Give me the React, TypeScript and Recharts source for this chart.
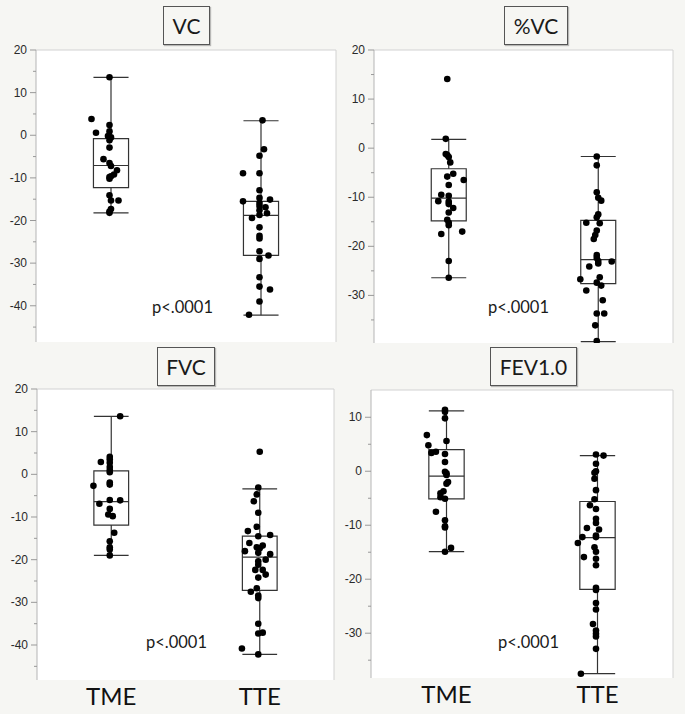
import {
  CartesianGrid,
  ComposedChart,
  ReferenceArea,
  ReferenceLine,
  Scatter,
  XAxis,
  YAxis,
} from "recharts";

const groups = ["TME", "TTE"];

// [value, horizontal jitter]
const vcTME = [
  [13.6, -0.01], [3.8, -0.13], [0.6, -0.1], [2.4, -0.01], [0.9, -0.01], [-0.2, -0.02],
  [-0.5, 0], [-1.2, -0.01], [-2.9, -0.01], [-5.6, -0.05], [-6.5, -0.01], [-7.2, 0],
  [-8.2, 0.04], [-9.2, 0.02], [-9.6, 0], [-9.8, -0.01], [-10.2, -0.01], [-14.1, -0.01],
  [-15.3, 0], [-15.3, 0.05], [-17.3, 0], [-17.9, -0.01], [-18.2, -0.01],
];
const vcTTE = [
  [3.5, 0.01], [-3.3, 0.02], [-4.8, -0.01], [-8.9, -0.12], [-8.9, -0.01], [-12.9, -0.01],
  [-15.5, -0.12], [-14.7, -0.01], [-15.1, 0.06], [-15.9, -0.01], [-16.6, -0.01], [-16.9, 0.03],
  [-17.6, -0.01], [-18.3, 0.04], [-18.7, -0.01], [-19.4, -0.06], [-21.6, -0.01], [-23.6, -0.01],
  [-24.2, -0.01], [-27.2, -0.01], [-28.2, 0.05], [-29.0, -0.01], [-33.3, -0.01], [-35.5, -0.01],
  [-36.2, 0.06], [-39.0, -0.01], [-42.1, -0.08],
];
const pvcTME = [
  [14.1, -0.01], [1.9, -0.02], [-1.2, -0.02], [-1.4, -0.01], [-1.8, 0], [-2.9, 0.01],
  [-5.2, 0.03], [-5.8, -0.01], [-6.5, 0.1], [-7.5, 0], [-9.5, -0.05], [-9.7, 0],
  [-10.8, -0.07], [-10.9, 0], [-11.4, 0], [-12.2, 0.03], [-13.1, 0], [-14.6, -0.01],
  [-15.2, 0], [-15.7, 0], [-17.5, -0.05], [-17.0, 0.09], [-23.0, 0], [-26.4, 0],
];
const pvcTTE = [
  [-1.7, -0.01], [-3.5, -0.01], [-9.0, -0.01], [-10.1, 0], [-10.7, 0.02], [-13.5, 0],
  [-14.1, -0.01], [-15.3, 0.01], [-15.2, -0.08], [-16.8, -0.01], [-17.7, -0.02], [-18.5, -0.03],
  [-21.8, -0.01], [-22.4, -0.01], [-23.0, 0], [-23.5, 0], [-23.1, 0.09], [-24.1, -0.06],
  [-26.3, 0.01], [-26.7, -0.12], [-27.4, -0.01], [-28.0, 0.02], [-29.0, -0.08], [-31.0, 0.03],
  [-33.7, -0.01], [-33.7, 0.04], [-36.1, -0.02], [-39.3, -0.01],
];
const fvcTME = [
  [13.6, 0.06], [4.1, -0.01], [3.5, -0.01], [2.9, -0.07], [2.7, -0.01], [1.7, -0.01],
  [1.0, -0.01], [0.5, -0.01], [-2.7, -0.12], [-1.9, -0.01], [-2.4, -0.01], [-6.9, -0.08],
  [-6.0, -0.01], [-6.1, 0.06], [-8.1, -0.01], [-9.4, -0.02], [-9.8, 0.01], [-13.7, 0.02],
  [-15.7, -0.01], [-17.1, -0.01], [-17.6, -0.01], [-19.0, -0.01],
];
const fvcTTE = [
  [5.3, 0], [-3.1, -0.01], [-4.7, -0.02], [-6.3, -0.04], [-9.0, -0.01], [-12.3, -0.02],
  [-13.3, -0.08], [-14.2, 0.07], [-14.5, -0.01], [-16.1, -0.07], [-16.7, 0.02], [-17.1, -0.02],
  [-17.3, 0], [-18.0, -0.1], [-18.7, 0.07], [-18.4, -0.01], [-20.0, 0.04], [-20.4, -0.01],
  [-21.2, -0.01], [-22.4, -0.03], [-22.4, 0.02], [-23.5, 0.04], [-24.2, -0.01], [-26.7, -0.02],
  [-27.5, -0.06], [-28.4, -0.01], [-29.0, -0.01], [-35.0, -0.01], [-37.1, 0.02], [-37.3, -0.01],
  [-40.8, -0.12], [-42.2, -0.01],
];
const fevTME = [
  [11.4, -0.01], [11.0, -0.01], [9.8, -0.01], [6.7, -0.13], [4.8, -0.12], [3.4, -0.1],
  [3.6, -0.07], [5.6, 0], [3.2, -0.01], [1.7, -0.01], [-0.1, -0.01], [-0.4, 0],
  [-0.7, 0], [-2.0, 0.01], [-2.3, 0], [-3.7, -0.02], [-4.1, -0.04], [-4.8, -0.04],
  [-5.1, -0.01], [-7.5, -0.07], [-9.1, -0.01], [-10.2, -0.01], [-10.4, -0.01], [-14.2, 0.03],
  [-14.9, -0.01],
];
const fevTTE = [
  [3.1, -0.01], [2.9, 0.04], [1.4, -0.01], [0.0, -0.01], [-0.3, -0.02], [-1.4, -0.02],
  [-3.5, -0.01], [-5.2, -0.02], [-6.3, -0.05], [-7.0, -0.01], [-8.8, -0.01], [-9.6, -0.01],
  [-10.5, -0.07], [-10.8, 0.01], [-11.9, -0.01], [-12.2, -0.01], [-12.2, -0.1], [-13.3, -0.13],
  [-14.1, -0.02], [-14.9, -0.01], [-15.9, -0.09], [-16.2, -0.01], [-17.4, -0.01], [-21.6, -0.01],
  [-22.0, -0.01], [-24.4, -0.01], [-25.6, -0.01], [-28.3, -0.03], [-29.5, -0.01], [-30.1, -0.01],
  [-30.6, -0.01], [-32.9, -0.01], [-37.5, -0.11],
];

// [lower whisker, q1, median, q3, upper whisker] for TME, TTE
const vcBoxes = [[-18.2, -12.3, -7.1, -0.8, 13.6], [-42.2, -28.2, -18.8, -15.5, 3.4]];
const pvcBoxes = [[-26.4, -14.8, -10.2, -4.2, 1.8], [-39.4, -27.6, -22.7, -14.7, -1.7]];
const fvcBoxes = [[-19.0, -11.9, -6.4, 0.8, 13.6], [-42.2, -27.2, -19.4, -14.5, -3.4]];
const fevBoxes = [[-14.9, -5.1, -0.9, 4.0, 11.2], [-37.5, -21.9, -12.3, -5.6, 2.9]];

const vcTicks = [20, 15, 10, 5, 0, -5, -10, -15, -20, -25, -30, -35, -40, -45];
const pvcTicks = [20, 15, 10, 5, 0, -5, -10, -15, -20, -25, -30, -35];
const fevTicks = [10, 5, 0, -5, -10, -15, -20, -25, -30, -35];

const BG = "#f6f6f3";
const INK = "#333";
const HW = 0.117;

function YTick(props: any) {
  const { x, y, payload } = props;
  const v = payload.value;
  const edge = x + 9;
  const major = v % 10 === 0;
  return (
    <g>
      <line x1={edge - (major ? 6 : 3)} x2={edge} y1={y} y2={y} stroke="#999" />
      {major && (
        <text x={x} y={y} dy={4} textAnchor="end" fontSize={12} fill="#2a2a2a"
          fontFamily="'Liberation Sans', Arial, sans-serif">{v}</text>
      )}
    </g>
  );
}

type PanelProps = {
  title: string;
  tme: number[][];
  tte: number[][];
  boxes: number[][];
  domain: [number, number];
  ticks: number[];
  left: number;
  top: number;
  width: number;
  height: number;
  axisW: number;
  margin: { top: number; right: number; bottom: number; left: number };
  xAxisH: number;
  titleBox: { x: number; y: number; w: number; h: number };
  pText: { x: number; y: number };
};

function Panel(p: PanelProps) {
  const pts = [
    ...p.tme.map(([v, j]) => ({ x: 1 + j, y: v })),
    ...p.tte.map(([v, j]) => ({ x: 2 + j, y: v })),
  ];
  const [lo, hi] = p.domain;
  return (
    <>
      <div style={{ position: "absolute", left: p.left, top: p.top }}>
        <ComposedChart width={p.width} height={p.height} margin={p.margin}>
          <CartesianGrid horizontal={false} vertical={false} fill="#fff" />
          <XAxis
            type="number"
            dataKey="x"
            domain={[0.5, 2.5]}
            allowDataOverflow
            ticks={[1, 2]}
            tickFormatter={(v: number) => groups[v - 1]}
            hide={p.xAxisH === 0}
            height={p.xAxisH || 30}
            axisLine={false}
            tickLine={false}
            tickSize={6}
            tickMargin={2}
            tick={{ fontSize: 24, fill: "#111", fontFamily: "Lato, sans-serif" }}
          />
          <YAxis
            type="number"
            dataKey="y"
            domain={p.domain}
            allowDataOverflow
            ticks={p.ticks}
            interval={0}
            width={p.axisW}
            tickSize={6}
            tickMargin={3}
            tickLine={false}
            axisLine={{ stroke: "#b5b5b5" }}
            tick={<YTick />}
          />
          <ReferenceLine segment={[{ x: 0.5, y: hi }, { x: 2.5, y: hi }]} stroke="#d2d2d2" />
          <ReferenceLine segment={[{ x: 2.5, y: hi }, { x: 2.5, y: lo }]} stroke="#d2d2d2" />
          {p.boxes.map((b, i) => {
            const c = i + 1;
            return [
              <ReferenceArea key={`a${i}`} x1={c - HW} x2={c + HW} y1={b[1]} y2={b[3]}
                fill="none" fillOpacity={0} stroke={INK} strokeWidth={1.2} />,
              <ReferenceLine key={`w1${i}`} segment={[{ x: c, y: b[0] }, { x: c, y: b[1] }]} stroke={INK} strokeWidth={1.2} />,
              <ReferenceLine key={`w2${i}`} segment={[{ x: c, y: b[3] }, { x: c, y: b[4] }]} stroke={INK} strokeWidth={1.2} />,
              <ReferenceLine key={`c1${i}`} segment={[{ x: c - HW, y: b[0] }, { x: c + HW, y: b[0] }]} stroke={INK} strokeWidth={1.2} />,
              <ReferenceLine key={`c2${i}`} segment={[{ x: c - HW, y: b[4] }, { x: c + HW, y: b[4] }]} stroke={INK} strokeWidth={1.2} />,
              <ReferenceLine key={`m${i}`} segment={[{ x: c - HW, y: b[2] }, { x: c + HW, y: b[2] }]} stroke={INK} strokeWidth={1.2} />,
            ];
          })}
          <Scatter
            data={pts}
            isAnimationActive={false}
            shape={(s: any) => <circle cx={s.cx} cy={s.cy} r={3.3} fill="#000" />}
          />
        </ComposedChart>
      </div>
      <div
        style={{
          position: "absolute",
          left: p.titleBox.x,
          top: p.titleBox.y,
          width: p.titleBox.w,
          height: p.titleBox.h,
          boxSizing: "border-box",
          border: "1px solid #555",
          boxShadow: "1px 1px 1px rgba(0,0,0,0.25)",
          display: "flex",
          alignItems: "center",
          justifyContent: "center",
          fontFamily: "Lato, sans-serif",
          fontSize: 21,
          color: "#1a1a1a",
        }}
      >
        {p.title}
      </div>
      <div
        style={{
          position: "absolute",
          left: p.pText.x,
          top: p.pText.y,
          fontFamily: "Lato, sans-serif",
          fontSize: 16.5,
          color: "#1a1a1a",
          lineHeight: "20px",
        }}
      >
        p&lt;.0001
      </div>
    </>
  );
}

export default function App() {
  return (
    <div style={{ position: "absolute", left: 0, top: 0, width: 685, height: 714, background: BG, overflow: "hidden" }}>
      <Panel
        title="VC" tme={vcTME} tte={vcTTE} boxes={vcBoxes}
        domain={[-48.5, 20]} ticks={vcTicks}
        left={0} top={0} width={342} height={355} axisW={36}
        margin={{ top: 50, right: 6, bottom: 13, left: 0 }} xAxisH={0}
        titleBox={{ x: 163, y: 6, w: 47, h: 39 }} pText={{ x: 152, y: 297 }}
      />
      <Panel
        title="%VC" tme={pvcTME} tte={pvcTTE} boxes={pvcBoxes}
        domain={[-39.7, 20]} ticks={pvcTicks}
        left={342} top={0} width={343} height={355} axisW={32}
        margin={{ top: 50, right: 12, bottom: 12, left: 0 }} xAxisH={0}
        titleBox={{ x: 504, y: 6, w: 64, h: 39 }} pText={{ x: 488, y: 297 }}
      />
      <Panel
        title="FVC" tme={fvcTME} tte={fvcTTE} boxes={fvcBoxes}
        domain={[-48.2, 20]} ticks={vcTicks}
        left={0} top={355} width={342} height={359} axisW={37}
        margin={{ top: 34, right: 8, bottom: 0, left: 0 }} xAxisH={34}
        titleBox={{ x: 157, y: 347, w: 58, h: 39 }} pText={{ x: 146, y: 632 }}
      />
      <Panel
        title="FEV1.0" tme={fevTME} tte={fevTTE} boxes={fevBoxes}
        domain={[-38.3, 15.05]} ticks={fevTicks}
        left={342} top={355} width={343} height={359} axisW={29}
        margin={{ top: 35, right: 12, bottom: 0, left: 0 }} xAxisH={36}
        titleBox={{ x: 490, y: 347, w: 87, h: 39 }} pText={{ x: 498, y: 632 }}
      />
    </div>
  );
}
